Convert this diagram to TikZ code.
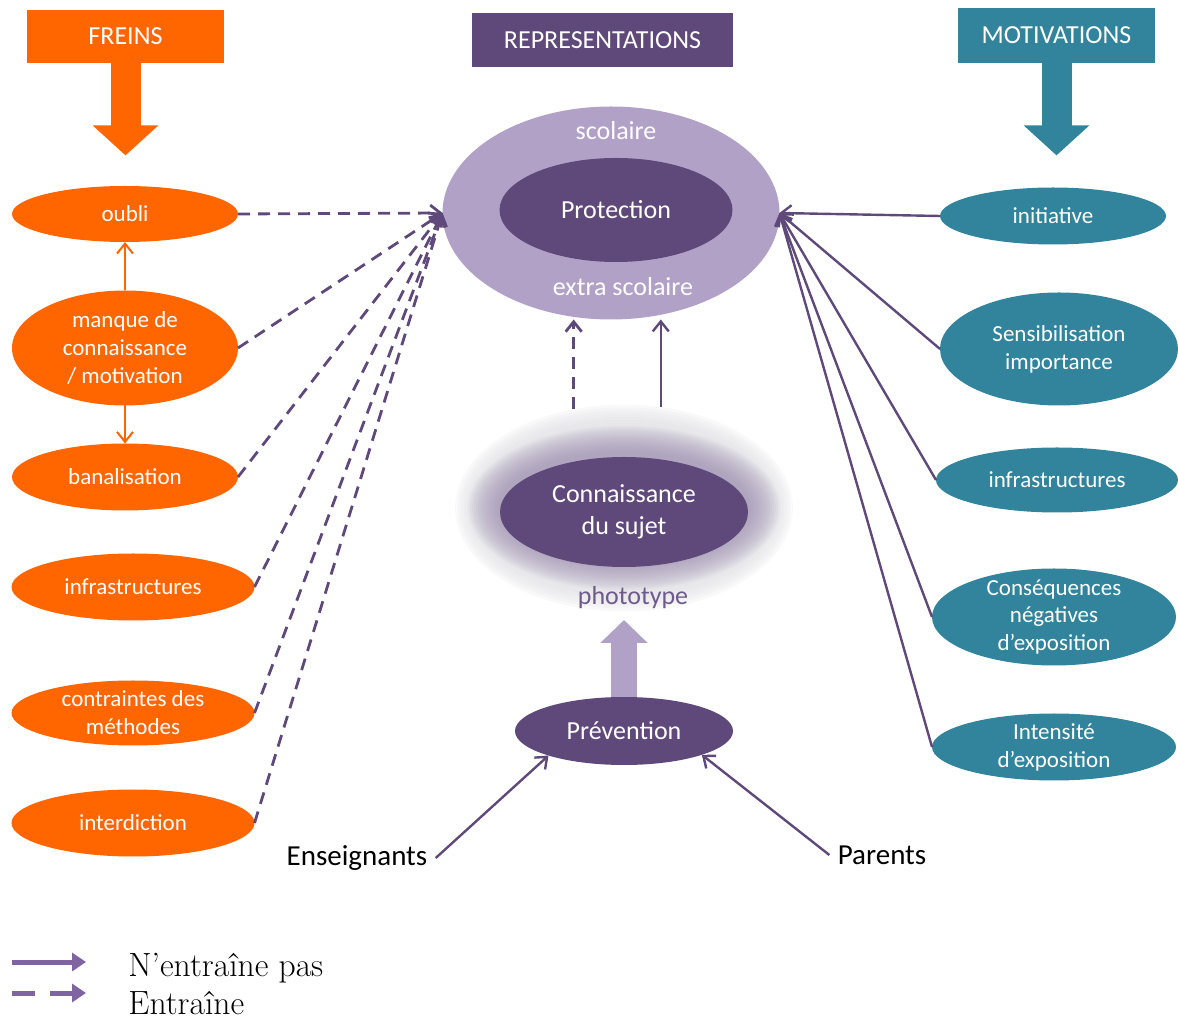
\documentclass[tikz,border=0pt]{standalone}
\usepackage{fontspec}
\newfontfamily\calfont{Carlito}
\usetikzlibrary{
    arrows.meta,
    positioning,
    shapes.geometric
}
\definecolor{freinorange}{HTML}{FF6600}
\definecolor{reprpurple}{HTML}{5F497A}
\definecolor{reprlight}{HTML}{B2A1C7}
\definecolor{motivteal}{HTML}{31849B}
\definecolor{legendpurple}{HTML}{8064A2}
\definecolor{photopurple}{HTML}{6E5A8C}
\definecolor{halopurple}{HTML}{9C8DB0}
\definecolor{glowgray}{HTML}{E2E2E6}
\tikzset{
    headbox/.style = {
        rectangle,
        inner sep = 0pt,
        text = white,
        font = \calfont\fontsize{13}{16}\selectfont
    },
    ellsize/.style 2 args = {
        minimum width = #1,
        minimum height = #2
    },
    sideell/.style = {
        ellipse,
        inner xsep = 0pt,
        inner ysep = -2.5pt,
        outer sep = 0pt,
        text = white,
        align = center,
        font = \calfont\fontsize{11.5}{14}\selectfont
    },
    freinell/.style = {sideell, fill = freinorange},
    motivell/.style = {sideell, fill = motivteal},
    reprell/.style = {
        ellipse,
        inner sep = 0pt,
        outer sep = 0pt,
        text = white,
        align = center,
        font = \calfont\fontsize{13}{16}\selectfont
    },
    centertext/.style = {
        inner sep = 0pt,
        font = \calfont\fontsize{13}{16}\selectfont
    },
    actor/.style = {
        inner sep = 4pt,
        font = \calfont\fontsize{14.5}{17}\selectfont
    },
    legendtext/.style = {
        inner sep = 0pt,
        anchor = base west,
        font = \fontsize{16.8}{20}\selectfont
    },
    blockarrow/.style = {
        line width = 15pt,
        -{Triangle[width = 32pt, length = 15pt]}
    },
    dasharrow/.style = {
        ->,
        draw = reprpurple,
        line width = 1.4pt,
        dash pattern = on 6pt off 4pt
    },
    linkarrow/.style = {
        ->,
        draw = reprpurple,
        line width = 1.2pt
    },
    legendarrow/.style = {
        draw = legendpurple,
        line width = 2.5pt,
        -{Triangle[length = 7pt, width = 9pt]}
    }
}

\begin{document}
\begin{tikzpicture}[
                        x = 0.5pt,
                        y = -0.5pt,
                        > = {Straight Barb[length = 5pt, width = 8pt]}
                    ]
    \useasboundingbox (0,0) rectangle (1178,1020);

    % en-tetes
    \node[headbox, fill = freinorange, minimum width = 98.5pt, minimum height = 26.5pt] (fr) at (125.5,36.5) {FREINS};
    \node[headbox, fill = reprpurple, minimum width = 130.5pt, minimum height = 27pt] (rep) at (602.5,40) {REPRESENTATIONS};
    \node[headbox, fill = motivteal, minimum width = 98.5pt, minimum height = 27.5pt] (mot) at (1056.5,35.5) {MOTIVATIONS};
    \draw[blockarrow, freinorange] (fr.south) -- ++(0,92);
    \draw[blockarrow, motivteal] (mot.south) -- ++(0,92);

    % freins
    \node[freinell, ellsize = {113pt}{28pt}] (ob) at (125,214) {oubli};
    \node[freinell, ellsize = {113pt}{57.5pt}] (mq) at (125,348) {manque de\\connaissance\\/ motivation};
    \node[freinell, ellsize = {113pt}{33.5pt}] (ban) at (125,477) {banalisation};
    \node[freinell, ellsize = {121.5pt}{33.5pt}] (infl) at (133,587) {infrastructures};
    \node[freinell, ellsize = {121.5pt}{32.5pt}] (ctr) at (133,713) {contraintes des\\méthodes};
    \node[freinell, ellsize = {121.5pt}{33.5pt}] (itd) at (133,823) {interdiction};

    % representations
    \node[reprell, fill = reprlight, ellsize = {168.5pt}{106.5pt}] (scol) at (611,213) {};
    \node[reprell, fill = reprpurple, ellsize = {116.5pt}{52pt}] (prot) at (616,210) {Protection};
    \node[centertext, text = white] (sco) at (616,131) {scolaire};
    \node[centertext, text = white] (xsco) at (623,287) {extra scolaire};

    \node[reprell, ellsize = {169pt}{103.5pt}] (glow) at (624,508) {};
    \foreach \d in {0,3,...,24}
        \fill[glowgray, opacity = 0.22] (glow.center) ellipse ({169-\d} and {103.5-\d});
    \foreach \d in {2,4,...,32}
        \fill[halopurple, opacity = 0.065] (glow.center) ellipse ({124+\d} and {55+0.85*\d});
    \node[reprell, fill = reprpurple, ellsize = {124pt}{55pt}] (conn) at (624,512) {Connaissance\\du sujet};
    \node[centertext, text = photopurple] (photo) at (633,598) {phototype};
    \node[reprell, fill = reprpurple, ellsize = {109pt}{34pt}] (prev) at (624,731) {Prévention};
    \draw[reprlight, line width = 13pt, -{Triangle[width = 23pt, length = 11.5pt]}] (prev.north) -- ++(0,-77);

    \node[actor] (ens) at (357,858) {Enseignants};
    \node[actor] (par) at (882,855) {Parents};

    % motivations
    \node[motivell, ellsize = {113pt}{28.5pt}] (init) at (1053,216) {initiative};
    \node[motivell, ellsize = {119pt}{56.5pt}] (sens) at (1059,349) {Sensibilisation\\importance};
    \node[motivell, ellsize = {121pt}{32.5pt}] (infr) at (1057,480) {infrastructures};
    \node[motivell, ellsize = {122pt}{48.5pt}] (cons) at (1054,617) {Conséquences\\négatives\\d’exposition};
    \node[motivell, ellsize = {122pt}{33.5pt}] (int) at (1054,747) {Intensité\\d’exposition};

    \path[->, freinorange, line width = 1pt] (mq.north) edge (ob.south)
                                             (mq.south) edge (ban.north);

    \path (ob.east) edge[dasharrow] (scol.west);
    \path (mq.east) edge[dasharrow] (scol.west);
    \path (ban.east) edge[dasharrow] (scol.west);
    \path (infl.east) edge[dasharrow] (scol.west);
    \path (ctr.east) edge[dasharrow] (scol.west);
    \path (itd.east) edge[dasharrow] (scol.west);

    \path (init.west) edge[linkarrow] (scol.east);
    \path (sens.west) edge[linkarrow] (scol.east);
    \path (infr.west) edge[linkarrow] (scol.east);
    \path (cons.west) edge[linkarrow] (scol.east);
    \path (int.west) edge[linkarrow] (scol.east);

    \draw[dasharrow] (glow.117) -- (glow.117 |- scol.south);
    \draw[linkarrow] (glow.70) -- (glow.70 |- scol.south);
    \draw[linkarrow] (ens.east) -- (prev.198);
    \draw[linkarrow] (par.west) -- (prev.343);

    % legende
    \coordinate (l1a) at (12,962);
    \coordinate (l1b) at (86,962);
    \coordinate (l2a) at (12,993);
    \coordinate (l2b) at (86,993);
    \draw[legendarrow] (l1a) -- (l1b);
    \draw[legendarrow, dash pattern = on 11.5pt off 7.5pt] (l2a) -- (l2b);
    \node[legendtext] (nep) at (128,976) {N’entraîne pas};
    \node[legendtext] (ent) at (128,1014) {Entraîne};
\end{tikzpicture}
\end{document}
